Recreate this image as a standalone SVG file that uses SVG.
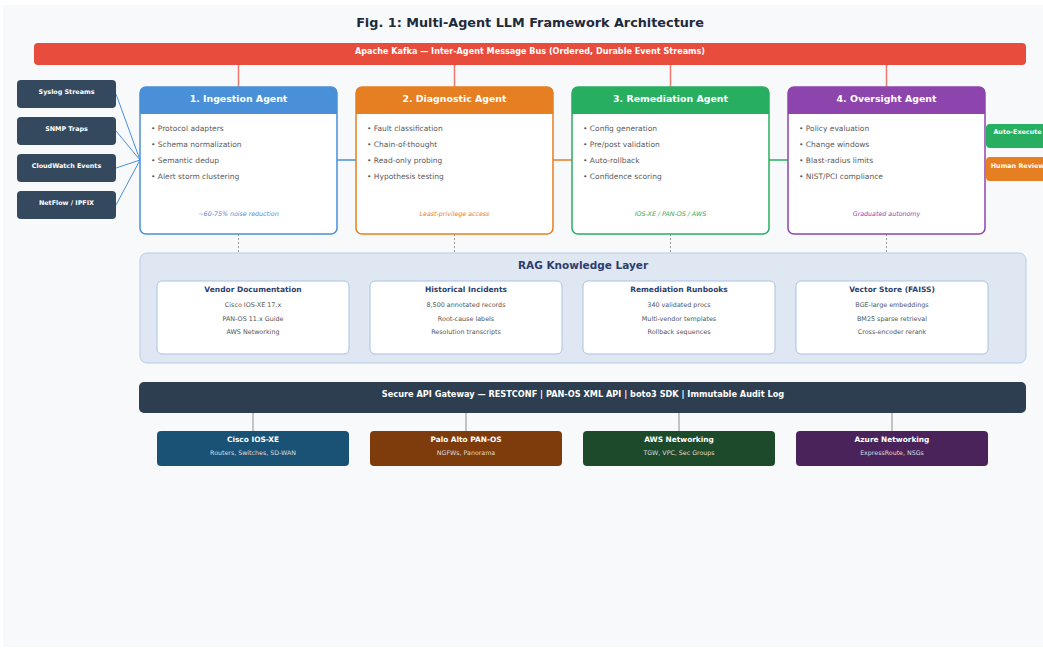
<svg xmlns="http://www.w3.org/2000/svg" width="1043" height="648" viewBox="0 0 1043 648">
  <style>
    text { font-family: "DejaVu Sans", "Liberation Sans", sans-serif; }
    .title { font-size: 12.8px; font-weight: bold; fill: #1f2a3a; text-anchor: middle; }
    .bar-label { font-size: 8.1px; font-weight: bold; fill: #ffffff; text-anchor: middle; }
    .agent-title { font-size: 9.4px; font-weight: bold; fill: #ffffff; text-anchor: middle; }
    .bullet { font-size: 7.5px; fill: #5a5a5a; }
    .foot { font-size: 6.3px; font-style: italic; text-anchor: middle; }
    .src-label { font-size: 6.4px; font-weight: bold; fill: #ffffff; text-anchor: middle; }
    .rag-title { font-size: 10.5px; font-weight: bold; fill: #2c3e6e; text-anchor: middle; }
    .card-title { font-size: 7.5px; font-weight: bold; fill: #2c3e6e; text-anchor: middle; }
    .card-line { font-size: 6.4px; fill: #555555; text-anchor: middle; }
    .vendor-title { font-size: 7.4px; font-weight: bold; fill: #ffffff; text-anchor: middle; }
    .vendor-sub { font-size: 6.3px; fill: #dddddd; text-anchor: middle; }
    .src { fill: #34495e; }
    .card { fill: #ffffff; stroke: #a9c3e3; stroke-width: 1; }
    .bus-link { stroke: #ee7a6e; stroke-width: 1.5; fill: none; }
    .rag-link { stroke: #9a9a9a; stroke-width: 1; stroke-dasharray: 2 2; fill: none; }
    .gw-link { stroke: #b0b0b0; stroke-width: 1.5; fill: none; }
    .feed { stroke: #4a90d9; stroke-width: 1; fill: none; }
  </style>

  <!-- page background -->
  <rect x="0" y="0" width="1043" height="648" fill="#ffffff"/>
  <rect x="3" y="5" width="1040" height="642" fill="#f8f9fb"/>

  <text class="title" x="530" y="26.5">Fig. 1: Multi-Agent LLM Framework Architecture</text>

  <!-- connectors -->
  <g id="connectors">
    <!-- message bus drops -->
    <line class="bus-link" x1="238.5" y1="65" x2="238.5" y2="87"/>
    <line class="bus-link" x1="454.5" y1="65" x2="454.5" y2="87"/>
    <line class="bus-link" x1="670.5" y1="65" x2="670.5" y2="87"/>
    <line class="bus-link" x1="886.5" y1="65" x2="886.5" y2="87"/>
    <!-- telemetry feeds into ingestion -->
    <line class="feed" x1="116" y1="94" x2="140" y2="160"/>
    <line class="feed" x1="116" y1="131" x2="140" y2="160"/>
    <line class="feed" x1="116" y1="168" x2="140" y2="160"/>
    <line class="feed" x1="116" y1="205" x2="140" y2="160"/>
    <!-- agent pipeline -->
    <line x1="337" y1="160" x2="356" y2="160" stroke="#4a90d9" stroke-width="1.5"/>
    <line x1="553" y1="160" x2="572" y2="160" stroke="#e67e22" stroke-width="1.5"/>
    <line x1="769" y1="160" x2="788" y2="160" stroke="#27ae60" stroke-width="1.5"/>
    <!-- agents to knowledge layer -->
    <line class="rag-link" x1="238.5" y1="234" x2="238.5" y2="253"/>
    <line class="rag-link" x1="454.5" y1="234" x2="454.5" y2="253"/>
    <line class="rag-link" x1="670.5" y1="234" x2="670.5" y2="253"/>
    <line class="rag-link" x1="886.5" y1="234" x2="886.5" y2="253"/>
    <!-- gateway to platforms -->
    <line class="gw-link" x1="253" y1="413" x2="253" y2="431"/>
    <line class="gw-link" x1="466" y1="413" x2="466" y2="431"/>
    <line class="gw-link" x1="679" y1="413" x2="679" y2="431"/>
    <line class="gw-link" x1="892" y1="413" x2="892" y2="431"/>
  </g>

  <!-- message bus -->
  <g id="kafka-bus">
    <rect x="34" y="43" width="992" height="22" rx="4" fill="#e74c3c"/>
    <text class="bar-label" x="530" y="54">Apache Kafka — Inter-Agent Message Bus (Ordered, Durable Event Streams)</text>
  </g>

  <!-- telemetry sources -->
  <g id="src-syslog">
    <rect class="src" x="17" y="80" width="99" height="28" rx="4"/>
    <text class="src-label" x="66.5" y="94.3">Syslog Streams</text>
  </g>
  <g id="src-snmp">
    <rect class="src" x="17" y="117" width="99" height="28" rx="4"/>
    <text class="src-label" x="66.5" y="131.3">SNMP Traps</text>
  </g>
  <g id="src-cloudwatch">
    <rect class="src" x="17" y="154" width="99" height="28" rx="4"/>
    <text class="src-label" x="66.5" y="168.3">CloudWatch Events</text>
  </g>
  <g id="src-netflow">
    <rect class="src" x="17" y="191" width="99" height="28" rx="4"/>
    <text class="src-label" x="66.5" y="205.3">NetFlow / IPFIX</text>
  </g>

  <!-- agents -->
  <g id="agent-ingestion">
    <rect x="140" y="87" width="197" height="147" rx="6" fill="#ffffff" stroke="#4a90d9" stroke-width="1.5"/>
    <path d="M140,114 V93 Q140,87 146,87 H331 Q337,87 337,93 V114 Z" fill="#4a90d9"/>
    <text class="agent-title" x="238.5" y="102">1. Ingestion Agent</text>
    <text class="bullet" x="151" y="130.7">• Protocol adapters</text>
    <text class="bullet" x="151" y="146.7">• Schema normalization</text>
    <text class="bullet" x="151" y="162.7">• Semantic dedup</text>
    <text class="bullet" x="151" y="178.7">• Alert storm clustering</text>
    <text class="foot" x="238.5" y="216" fill="#4a90d9">~60-75% noise reduction</text>
  </g>
  <g id="agent-diagnostic">
    <rect x="356" y="87" width="197" height="147" rx="6" fill="#ffffff" stroke="#e67e22" stroke-width="1.5"/>
    <path d="M356,114 V93 Q356,87 362,87 H547 Q553,87 553,93 V114 Z" fill="#e67e22"/>
    <text class="agent-title" x="454.5" y="102">2. Diagnostic Agent</text>
    <text class="bullet" x="367" y="130.7">• Fault classification</text>
    <text class="bullet" x="367" y="146.7">• Chain-of-thought</text>
    <text class="bullet" x="367" y="162.7">• Read-only probing</text>
    <text class="bullet" x="367" y="178.7">• Hypothesis testing</text>
    <text class="foot" x="454.5" y="216" fill="#e67e22">Least-privilege access</text>
  </g>
  <g id="agent-remediation">
    <rect x="572" y="87" width="197" height="147" rx="6" fill="#ffffff" stroke="#27ae60" stroke-width="1.5"/>
    <path d="M572,114 V93 Q572,87 578,87 H763 Q769,87 769,93 V114 Z" fill="#27ae60"/>
    <text class="agent-title" x="670.5" y="102">3. Remediation Agent</text>
    <text class="bullet" x="583" y="130.7">• Config generation</text>
    <text class="bullet" x="583" y="146.7">• Pre/post validation</text>
    <text class="bullet" x="583" y="162.7">• Auto-rollback</text>
    <text class="bullet" x="583" y="178.7">• Confidence scoring</text>
    <text class="foot" x="670.5" y="216" fill="#27ae60">IOS-XE / PAN-OS / AWS</text>
  </g>
  <g id="agent-oversight">
    <rect x="788" y="87" width="197" height="147" rx="6" fill="#ffffff" stroke="#8e44ad" stroke-width="1.5"/>
    <path d="M788,114 V93 Q788,87 794,87 H979 Q985,87 985,93 V114 Z" fill="#8e44ad"/>
    <text class="agent-title" x="886.5" y="102">4. Oversight Agent</text>
    <text class="bullet" x="799" y="130.7">• Policy evaluation</text>
    <text class="bullet" x="799" y="146.7">• Change windows</text>
    <text class="bullet" x="799" y="162.7">• Blast-radius limits</text>
    <text class="bullet" x="799" y="178.7">• NIST/PCI compliance</text>
    <text class="foot" x="886.5" y="216" fill="#8e44ad">Graduated autonomy</text>
  </g>

  <!-- oversight outcomes -->
  <g id="out-auto">
    <rect x="986" y="124" width="64" height="24" rx="4" fill="#27ae60"/>
    <text class="src-label" x="1017.5" y="134.3">Auto-Execute</text>
  </g>
  <g id="out-human">
    <rect x="986" y="157" width="64" height="24" rx="4" fill="#e67e22"/>
    <text class="src-label" x="1017.5" y="168">Human Review</text>
  </g>

  <!-- knowledge layer -->
  <g id="rag-layer">
    <rect x="140" y="253" width="886" height="110" rx="7" fill="#dee7f2" stroke="#b9cce3" stroke-width="1"/>
    <text class="rag-title" x="583" y="269">RAG Knowledge Layer</text>
  </g>
  <g id="rag-vendor-docs">
    <rect class="card" x="157" y="281" width="192" height="73" rx="5"/>
    <text class="card-title" x="253" y="291.5">Vendor Documentation</text>
    <text class="card-line" x="253" y="306.5">Cisco IOS-XE 17.x</text>
    <text class="card-line" x="253" y="320.5">PAN-OS 11.x Guide</text>
    <text class="card-line" x="253" y="334">AWS Networking</text>
  </g>
  <g id="rag-incidents">
    <rect class="card" x="370" y="281" width="192" height="73" rx="5"/>
    <text class="card-title" x="466" y="291.5">Historical Incidents</text>
    <text class="card-line" x="466" y="306.5">8,500 annotated records</text>
    <text class="card-line" x="466" y="320.5">Root-cause labels</text>
    <text class="card-line" x="466" y="334">Resolution transcripts</text>
  </g>
  <g id="rag-runbooks">
    <rect class="card" x="583" y="281" width="192" height="73" rx="5"/>
    <text class="card-title" x="679" y="291.5">Remediation Runbooks</text>
    <text class="card-line" x="679" y="306.5">340 validated procs</text>
    <text class="card-line" x="679" y="320.5">Multi-vendor templates</text>
    <text class="card-line" x="679" y="334">Rollback sequences</text>
  </g>
  <g id="rag-vector-store">
    <rect class="card" x="796" y="281" width="192" height="73" rx="5"/>
    <text class="card-title" x="892" y="291.5">Vector Store (FAISS)</text>
    <text class="card-line" x="892" y="306.5">BGE-large embeddings</text>
    <text class="card-line" x="892" y="320.5">BM25 sparse retrieval</text>
    <text class="card-line" x="892" y="334">Cross-encoder rerank</text>
  </g>

  <!-- gateway -->
  <g id="api-gateway">
    <rect x="139" y="382" width="887" height="31" rx="5" fill="#2c3e50"/>
    <text class="bar-label" x="583" y="397.3" style="font-size:8.2px">Secure API Gateway — RESTCONF | PAN-OS XML API | boto3 SDK | Immutable Audit Log</text>
  </g>

  <!-- managed platforms -->
  <g id="vendor-cisco">
    <rect x="157" y="431" width="192" height="35" rx="4" fill="#1a5276"/>
    <text class="vendor-title" x="253" y="442.3">Cisco IOS-XE</text>
    <text class="vendor-sub" x="253" y="455">Routers, Switches, SD-WAN</text>
  </g>
  <g id="vendor-paloalto">
    <rect x="370" y="431" width="192" height="35" rx="4" fill="#7e3b0c"/>
    <text class="vendor-title" x="466" y="442.3">Palo Alto PAN-OS</text>
    <text class="vendor-sub" x="466" y="455">NGFWs, Panorama</text>
  </g>
  <g id="vendor-aws">
    <rect x="583" y="431" width="192" height="35" rx="4" fill="#1d4a2a"/>
    <text class="vendor-title" x="679" y="442.3">AWS Networking</text>
    <text class="vendor-sub" x="679" y="455">TGW, VPC, Sec Groups</text>
  </g>
  <g id="vendor-azure">
    <rect x="796" y="431" width="192" height="35" rx="4" fill="#4a235a"/>
    <text class="vendor-title" x="892" y="442.3">Azure Networking</text>
    <text class="vendor-sub" x="892" y="455">ExpressRoute, NSGs</text>
  </g>
</svg>
